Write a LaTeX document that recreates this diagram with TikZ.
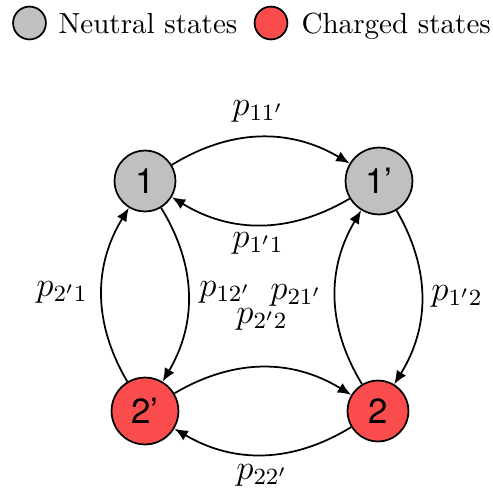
\documentclass[tikz,border=0pt]{standalone}
\usepackage{fontspec}
\newfontfamily\nodefont{TeX Gyre Heros}
\usetikzlibrary{arrows.meta}
\definecolor{neutral}{RGB}{192,192,192}
\definecolor{charged}{RGB}{250,76,76}
\begin{document}
\begin{tikzpicture}[x=0.344pt,y=-0.344pt,
  state/.style={circle,draw,line width=0.6pt,inner sep=3.6pt,font=\nodefont\large},
  neu/.style={state,fill=neutral},
  chg/.style={state,fill=charged},
  legcirc/.style={circle,draw,line width=0.6pt,inner sep=0pt,minimum size=11.3pt},
  trans/.style={-{Latex[length=4.6pt,width=3.8pt]},line width=0.6pt,bend left=31},
  lab/.style={font=\large}]
\useasboundingbox (0,0) rectangle (493,490);
% legend
\node[legcirc,fill=neutral] (ln) at (29.5,23) {};
\node[anchor=base west,inner sep=0pt] (lnt) at (58,33) {Neutral states};
\node[legcirc,fill=charged] (lc) at (271,23) {};
\node[anchor=base west,inner sep=0pt] (lct) at (301,33) {Charged states};
% states
\node[neu] (s1) at (145,181) {1};
\node[neu] (s1p) at (379,181) {1’};
\node[chg] (s2p) at (145,411) {2’};
\node[chg] (s2) at (378,411) {2};
% transitions
\draw[trans] (s1) to (s1p);
\draw[trans] (s1p) to (s1);
\draw[trans] (s1) to (s2p);
\draw[trans] (s2p) to (s1);
\draw[trans] (s1p) to (s2);
\draw[trans] (s2) to (s1p);
\draw[trans] (s2p) to (s2);
\draw[trans] (s2) to (s2p);
% labels
\node[lab] (l11p) at (258,111) {$p_{11'}$};
\node[lab] (l1p1) at (258,243) {$p_{1'1}$};
\node[lab] (l2p1) at (62,292) {$p_{2'1}$};
\node[lab] (l12p) at (225,292) {$p_{12'}$};
\node[lab] (l21p) at (296,295) {$p_{21'}$};
\node[lab] (l1p2) at (457,296) {$p_{1'2}$};
\node[lab] (l2p2) at (262,319) {$p_{2'2}$};
\node[lab] (l22p) at (262,475) {$p_{22'}$};
\end{tikzpicture}
\end{document}
